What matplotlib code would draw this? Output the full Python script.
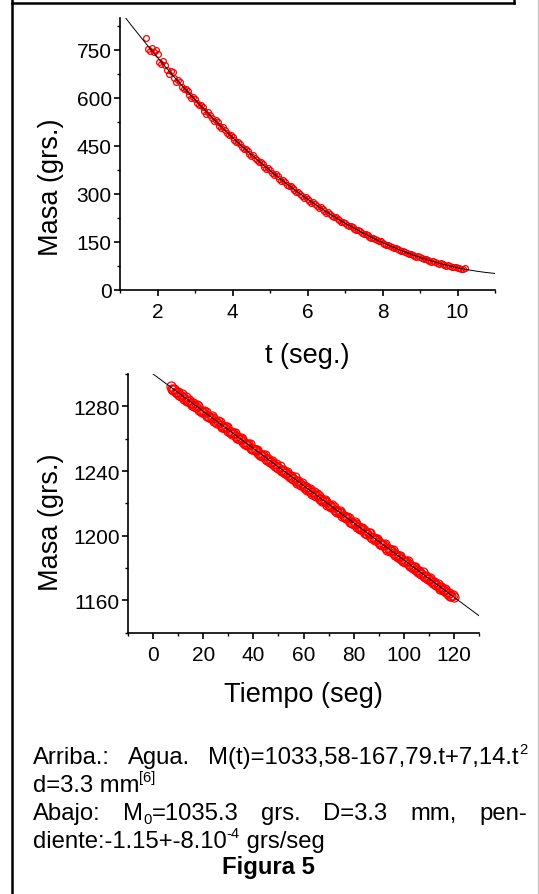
import matplotlib
matplotlib.use("Agg")
import matplotlib.pyplot as plt
from matplotlib.lines import Line2D
from matplotlib.ticker import MultipleLocator

plt.rcParams['font.family'] = ['Liberation Sans', 'DejaVu Sans']

# arriba: agua, masa vs t (seg.)
t_arriba = [1.7, 1.8, 1.9, 2.0, 2.1, 2.2, 2.3, 2.4, 2.5, 2.6, 2.7, 2.8, 2.9, 3.0,
            3.1, 3.2, 3.3, 3.4, 3.5, 3.6, 3.7, 3.8, 3.9, 4.0, 4.1, 4.2, 4.3, 4.4,
            4.5, 4.6, 4.7, 4.8, 4.9, 5.0, 5.1, 5.2, 5.3, 5.4, 5.5, 5.6, 5.7, 5.8,
            5.9, 6.0, 6.1, 6.2, 6.3, 6.4, 6.5, 6.6, 6.7, 6.8, 6.9, 7.0, 7.1, 7.2,
            7.3, 7.4, 7.5, 7.6, 7.7, 7.8, 7.9, 8.0, 8.1, 8.2, 8.3, 8.4, 8.5, 8.6,
            8.7, 8.8, 8.9, 9.0, 9.1, 9.2, 9.3, 9.4, 9.5, 9.6, 9.7, 9.8, 9.9, 10.0,
            10.1, 10.2]
m_arriba = [786, 748, 744, 738, 705, 703, 676, 680, 650, 650, 628, 622, 601, 598,
            577, 572, 551, 546, 528, 524, 506, 500, 484, 478, 461, 456, 440, 434,
            419, 414, 399, 393, 379, 374, 360, 355, 342, 336, 324, 318, 306, 301,
            289, 284, 273, 268, 257, 253, 242, 238, 228, 223, 214, 209, 200, 196,
            187, 183, 175, 171, 163, 159, 152, 148, 141, 138, 131, 128, 121, 119,
            112, 110, 104, 102, 96, 94, 89, 87, 82, 80, 76, 75, 71, 70,
            66, 68]
# lecturas intermedias
t_arriba_b = [1.75, 1.85, 1.95, 2.05, 2.15, 2.25, 2.35, 2.45, 2.55, 2.65, 2.75, 2.85,
              2.95, 3.05, 3.15, 3.25, 3.35, 3.45, 3.55, 3.65, 3.75, 3.85, 3.95, 4.05,
              4.15, 4.25, 4.35, 4.45, 4.55, 4.65, 4.75, 4.85, 4.95, 5.05, 5.15, 5.25,
              5.35, 5.45, 5.55, 5.65, 5.75, 5.85, 5.95, 6.05, 6.15, 6.25, 6.35, 6.45,
              6.55, 6.65, 6.75, 6.85, 6.95, 7.05, 7.15, 7.25, 7.35, 7.45, 7.55, 7.65,
              7.75, 7.85, 7.95, 8.05, 8.15, 8.25, 8.35, 8.45, 8.55, 8.65, 8.75, 8.85,
              8.95, 9.05, 9.15, 9.25, 9.35, 9.45, 9.55, 9.65, 9.75, 9.85, 9.95, 10.05,
              10.15]
m_arriba_b = [752, 756, 750, 712, 716, 687, 684, 662, 657, 635, 629, 609,
              604, 585, 579, 560, 555, 536, 531, 513, 508, 490, 485, 468,
              463, 446, 442, 425, 421, 405, 400, 385, 381, 366, 361, 347,
              343, 329, 325, 311, 307, 294, 290, 278, 274, 262, 258, 247,
              243, 232, 228, 218, 214, 204, 200, 191, 188, 179, 175, 167,
              164, 156, 152, 145, 142, 135, 132, 125, 122, 116, 113, 107,
              105, 99, 97, 92, 90, 85, 83, 79, 77, 73, 72, 68,
              67]
# ajuste M(t)=1033,58-167,79.t+7,14.t^2
coef_arriba = [1033.58, -167.79, 7.14]
t_ajuste_arriba = [1.0 + 0.05 * i for i in range(201)]

# abajo: masa vs tiempo (seg)
t_abajo = list(range(7, 121))
m_abajo = [1292.5, 1290.1, 1289.0, 1288.9, 1286.4, 1285.5, 1285.6, 1283.0, 1282.1, 1282.3,
           1279.8, 1279.9, 1277.2, 1276.4, 1276.3, 1274.0, 1272.9, 1272.8, 1270.6, 1270.7,
           1268.3, 1267.1, 1267.2, 1264.8, 1263.9, 1263.7, 1261.4, 1260.3, 1260.2, 1258.0,
           1257.0, 1256.8, 1254.5, 1253.4, 1253.3, 1251.1, 1250.0, 1249.9, 1247.7, 1247.5,
           1245.4, 1244.2, 1244.1, 1242.0, 1240.8, 1240.6, 1238.5, 1237.4, 1237.2, 1235.1,
           1234.0, 1233.7, 1231.6, 1230.5, 1230.3, 1228.2, 1227.0, 1226.8, 1224.7, 1224.4,
           1222.4, 1221.3, 1221.0, 1219.0, 1217.8, 1217.5, 1215.5, 1214.4, 1214.1, 1212.1,
           1211.0, 1210.7, 1208.6, 1207.5, 1207.2, 1205.2, 1204.0, 1203.7, 1201.8, 1201.4,
           1199.4, 1198.3, 1198.0, 1196.0, 1194.8, 1194.5, 1192.6, 1191.5, 1191.1, 1189.1,
           1188.0, 1187.6, 1185.6, 1184.5, 1184.2, 1182.2, 1181.0, 1180.7, 1178.8, 1178.4,
           1176.4, 1175.3, 1175.0, 1173.0, 1171.8, 1171.5, 1169.5, 1168.4, 1168.1, 1166.1,
           1165.0, 1164.6, 1162.7, 1162.0]
t_abajo_b = [x + 0.5 for x in range(7, 120)]
m_abajo_b = [1290.6, 1291.0, 1288.0, 1287.2, 1287.9, 1284.7, 1283.4, 1284.1, 1281.0, 1280.3,
             1280.9, 1277.6, 1276.8, 1277.3, 1274.2, 1273.4, 1274.0, 1270.8, 1269.9, 1270.5,
             1267.3, 1266.5, 1267.0, 1263.9, 1263.0, 1263.6, 1260.4, 1259.6, 1260.1, 1257.0,
             1256.1, 1256.7, 1253.5, 1252.7, 1253.2, 1250.1, 1249.2, 1249.8, 1246.6, 1245.8,
             1246.3, 1243.2, 1242.3, 1242.9, 1239.7, 1238.9, 1239.4, 1236.3, 1235.4, 1236.0,
             1232.8, 1232.0, 1232.5, 1229.4, 1228.5, 1229.1, 1225.9, 1225.1, 1225.6, 1222.5,
             1221.6, 1222.2, 1219.0, 1218.2, 1218.7, 1215.6, 1214.7, 1215.3, 1212.1, 1211.3,
             1211.8, 1208.7, 1207.8, 1208.4, 1205.2, 1204.4, 1204.9, 1201.8, 1200.9, 1201.5,
             1198.3, 1197.5, 1198.0, 1194.9, 1194.0, 1194.6, 1191.4, 1190.6, 1191.1, 1188.0,
             1187.1, 1187.7, 1184.5, 1183.7, 1184.2, 1181.1, 1180.2, 1180.8, 1177.6, 1176.8,
             1177.3, 1174.2, 1173.3, 1173.9, 1170.7, 1169.9, 1170.4, 1167.3, 1166.4, 1167.0,
             1163.8, 1163.0, 1163.5]
# recta de ajuste
ordenada_abajo = 1300.0
pendiente_abajo = -1.15
t_ajuste_abajo = [-10, 130]

W, H = 539, 895
fig = plt.figure(figsize=(W / 100, H / 100), dpi=100)


def px(x, y):
    return x / W, 1 - y / H


def caja(ax, xlo, xhi, ylo, yhi, xmaj, xmin, ymaj, ymin):
    ax.set_xlim(xlo, xhi)
    ax.set_ylim(ylo, yhi)
    ax.xaxis.set_major_locator(MultipleLocator(xmaj))
    ax.xaxis.set_minor_locator(MultipleLocator(xmin))
    ax.yaxis.set_major_locator(MultipleLocator(ymaj))
    ax.yaxis.set_minor_locator(MultipleLocator(ymin))
    for s in ['top', 'right']:
        ax.spines[s].set_visible(False)
    for s in ['left', 'bottom']:
        ax.spines[s].set_linewidth(1.2)
    ax.tick_params(which='major', direction='out', length=4.5, width=1.2, labelsize=15)
    ax.tick_params(which='minor', direction='out', length=2.5, width=1.0)
    ax.tick_params(axis='x', pad=4.5)
    ax.tick_params(axis='y', pad=1.5)


# grafico de arriba
ax1 = fig.add_axes([120 / W, 1 - 291 / H, 375 / W, 272 / H])
caja(ax1, 1, 11, 0, 850, 2, 1, 150, 75)
ajuste1 = [coef_arriba[0] + coef_arriba[1] * t + coef_arriba[2] * t ** 2 for t in t_ajuste_arriba]
ax1.plot(t_arriba, m_arriba, 'o', ms=4.2, mfc='none', mec='red', mew=0.9)
ax1.plot(t_arriba_b, m_arriba_b, 'o', ms=4.2, mfc='none', mec='red', mew=0.9)
ax1.plot(t_ajuste_arriba, ajuste1, color='black', lw=0.7)
ax1.set_xlabel('t (seg.)', fontsize=19.5)
ax1.set_ylabel('Masa (grs.)', fontsize=19.5)
ax1.xaxis.set_label_coords(0.5, -0.19)
ax1.yaxis.set_label_coords(-0.15, 0.38)

# grafico de abajo
ax2 = fig.add_axes([128 / W, 1 - 633.7 / H, 351 / W, 258.7 / H])
caja(ax2, -10, 130, 1140, 1300, 20, 10, 40, 20)
ajuste2 = [ordenada_abajo + pendiente_abajo * t for t in t_ajuste_abajo]
ax2.plot(t_abajo, m_abajo, 'o', ms=6.5, mfc='none', mec='red', mew=0.9)
ax2.plot(t_abajo_b, m_abajo_b, 'o', ms=6.5, mfc='none', mec='red', mew=0.9)
ax2.plot(t_ajuste_abajo, ajuste2, color='black', lw=0.7)
ax2.set_xlabel('Tiempo (seg)', fontsize=19.5)
ax2.set_ylabel('Masa (grs.)', fontsize=19.5)
ax2.xaxis.set_label_coords(0.5, -0.187)
ax2.yaxis.set_label_coords(-0.183, 0.43)

# marco
borde = [((12, 0), (12, H)), ((12, 4), (514, 4)), ((514, 0), (514, 4))]
for (xa, ya), (xb, yb) in borde:
    a, b = px(xa, ya), px(xb, yb)
    fig.add_artist(Line2D([a[0], b[0]], [a[1], b[1]], color='black', lw=1.8,
                          transform=fig.transFigure))
a, b = px(537.5, 0), px(537.5, H)
fig.add_artist(Line2D([a[0], b[0]], [a[1], b[1]], color='#c8c8c8', lw=1.0,
                      transform=fig.transFigure))

# texto al pie (partes: texto normal, superindice o subindice)
tam = 17.2
renderer = fig.canvas.get_renderer()
subir = {'n': 0, 'sup': -10, 'sub': 4}


def poner(partes, x, y, borrar=False):
    for s, tipo in partes:
        size = tam if tipo == 'n' else tam * 0.62
        t = fig.text(*px(x, y + subir[tipo]), s, fontsize=size, va='baseline')
        x += t.get_window_extent(renderer).width
        if borrar:
            t.remove()
    return x


def justificar(palabras, y, x0=33, x1=527):
    anchos = [poner(p, 0, y, borrar=True) for p in palabras]
    hueco = (x1 - x0 - sum(anchos)) / (len(palabras) - 1)
    x = x0
    for p, w in zip(palabras, anchos):
        poner(p, x, y)
        x += w + hueco


justificar([[('Arriba.:', 'n')], [('Agua.', 'n')],
            [('M(t)=1033,58-167,79.t+7,14.t', 'n'), ('2', 'sup')]], 764)
poner([('d=3.3 mm', 'n'), ('[6]', 'sup')], 33, 792)
justificar([[('Abajo:', 'n')], [('M', 'n'), ('0', 'sub'), ('=1035.3', 'n')],
            [('grs.', 'n')], [('D=3.3', 'n')], [('mm,', 'n')], [('pen-', 'n')]], 820)
poner([('diente:-1.15+-8.10', 'n'), ('-4', 'sup'), (' grs/seg', 'n')], 33, 848)
fig.text(*px(268, 874), 'Figura 5', fontsize=tam, fontweight='bold', ha='center', va='baseline')

fig.savefig('out.png', dpi=100)
